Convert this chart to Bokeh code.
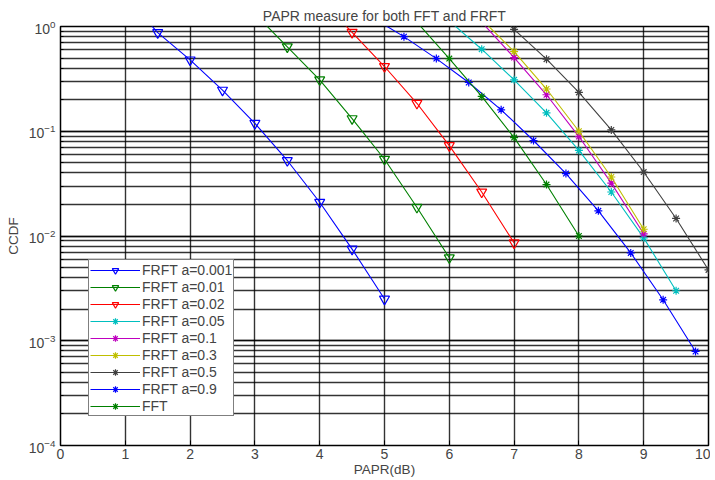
import numpy as np
from bokeh.plotting import figure
from bokeh.models import Legend, LegendItem, Range1d, FixedTicker, LogTicker
from bokeh.embed import file_html
from bokeh.resources import INLINE

FONT = "Liberation Sans"

# ---- data ----
x_a0001 = [1.0, 1.5, 2.0, 2.5, 3.0, 3.5, 4.0, 4.5, 5.0]
y_a0001 = [1.96, 0.875, 0.48, 0.247, 0.119, 0.0526, 0.021, 0.0075, 0.0025]

x_a001 = [3.0, 3.5, 4.0, 4.5, 5.0, 5.5, 6.0]
y_a001 = [1.32, 0.64, 0.31, 0.132, 0.054, 0.0188, 0.0062]

x_a002 = [4.0, 4.5, 5.0, 5.5, 6.0, 6.5, 7.0]
y_a002 = [1.84, 0.88, 0.415, 0.185, 0.073, 0.0263, 0.0086]

x_a005 = [6.0, 6.5, 7.0, 7.5, 8.0, 8.5, 9.0, 9.5]
y_a005 = [1.13, 0.607, 0.31, 0.150, 0.0656, 0.0263, 0.0096, 0.0030]

x_a01 = [6.5, 7.0, 7.5, 8.0, 8.5, 9.0]
y_a01 = [1.1, 0.505, 0.223, 0.089, 0.032, 0.0105]

x_a03 = [6.5, 7.0, 7.5, 8.0, 8.5, 9.0]
y_a03 = [1.17, 0.576, 0.253, 0.100, 0.0366, 0.0116]

x_a05 = [6.5, 7.0, 7.5, 8.0, 8.5, 9.0, 9.5, 10.0]
y_a05 = [1.9, 0.94, 0.488, 0.235, 0.103, 0.0408, 0.0147, 0.00474]

x_a09 = [4.8, 5.3, 5.8, 6.3, 6.8, 7.3, 7.8, 8.3, 8.8, 9.3, 9.8]
y_a09 = [1.23, 0.80, 0.494, 0.292, 0.160, 0.0816, 0.0394, 0.0174, 0.0069, 0.00246, 0.00079]

x_fft = [5.5, 6.0, 6.5, 7.0, 7.5, 8.0]
y_fft = [1.1, 0.494, 0.215, 0.087, 0.031, 0.0100]

labels = ["FRFT a=0.001", "FRFT a=0.01", "FRFT a=0.02", "FRFT a=0.05",
          "FRFT a=0.1", "FRFT a=0.3", "FRFT a=0.5", "FRFT a=0.9", "FFT"]
colors = ["#0000FF", "#008000", "#FF0000", "#00BFBF", "#BF00BF",
          "#BFBF00", "#404040", "#0000FF", "#008000"]
markers = ["inverted_triangle"] * 3 + ["asterisk"] * 6
series = [(x_a0001, y_a0001), (x_a001, y_a001), (x_a002, y_a002),
          (x_a005, y_a005), (x_a01, y_a01), (x_a03, y_a03),
          (x_a05, y_a05), (x_a09, y_a09), (x_fft, y_fft)]
x_ticks = [0, 1, 2, 3, 4, 5, 6, 7, 8, 9, 10]

p = figure(
    output_backend="svg", toolbar_location=None,
    y_axis_type="log",
    x_range=Range1d(0, 10), y_range=Range1d(1e-4, 1),
    frame_width=648, frame_height=419,
    min_border_left=60, min_border_right=2, min_border_top=26, min_border_bottom=34,
    title="PAPR measure for both FFT and FRFT",
)
p.title.align = "center"
p.title.text_font = FONT
p.title.text_font_size = "14px"
p.title.text_font_style = "normal"
p.title.standoff = 5
p.outline_line_color = "black"
p.outline_line_width = 1.5

p.xaxis.ticker = FixedTicker(ticks=x_ticks)
p.yaxis.ticker = LogTicker(num_minor_ticks=10)
for ax in (p.xaxis[0], p.yaxis[0]):
    ax.major_label_text_font = FONT
    ax.major_label_text_font_size = "14px"
    ax.axis_label_text_font = FONT
    ax.axis_label_text_font_size = "13.5px"
    ax.axis_label_text_font_style = "normal"
    ax.major_tick_out = 0
    ax.major_tick_in = 5
    ax.minor_tick_out = 0
    ax.minor_tick_in = 3
    ax.axis_line_color = None
    ax.major_label_standoff = 3
    ax.axis_label_standoff = 0
p.yaxis.major_label_standoff = 5
p.yaxis.axis_label_standoff = 5
p.xaxis.axis_label = "PAPR(dB)"
p.yaxis.axis_label = "CCDF"

for g in (p.xgrid, p.ygrid):
    g.grid_line_color = "black"
    g.grid_line_alpha = 0.8
    g.grid_line_width = 1.4
p.ygrid.minor_grid_line_color = "black"
p.ygrid.minor_grid_line_alpha = 0.8
p.ygrid.minor_grid_line_width = 1.4

items = []
for (xs, ys), lab, col, mk in zip(series, labels, colors, markers):
    r_line = p.line(xs, ys, line_color=col, line_width=1.1)
    r_mk = p.scatter(xs, ys, marker=mk, size=10 if mk == "inverted_triangle" else 8,
                     line_color=col, fill_color=None, line_width=1.2)
    items.append(LegendItem(label=lab, renderers=[r_line, r_mk]))

legend = Legend(items=items, location=(28, 29))
legend.label_text_font = FONT
legend.label_text_font_size = "14px"
legend.glyph_width = 50
legend.glyph_height = 16
legend.label_height = 17
legend.label_standoff = 2
legend.spacing = 0
legend.padding = 1
legend.margin = 0
legend.border_line_color = "black"
legend.border_line_width = 1.5
legend.background_fill_color = "white"
legend.background_fill_alpha = 1
p.add_layout(legend, "center")

open("out.html", "w").write(file_html(p, INLINE))
